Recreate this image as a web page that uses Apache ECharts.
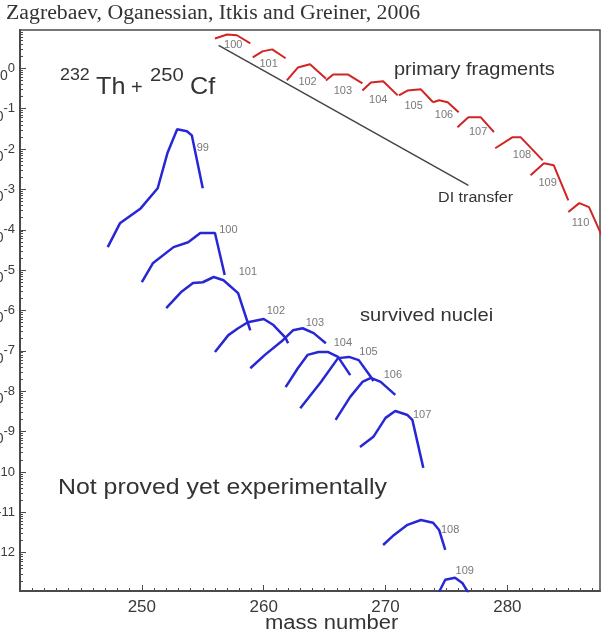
<!DOCTYPE html>
<html>
<head>
<meta charset="utf-8">
<script src="https://cdn.jsdelivr.net/npm/echarts@6/dist/echarts.min.js"></script>
<style>
  html, body { margin: 0; padding: 0; background: #fff; }
  #chart { width: 604px; height: 637px; }
</style>
</head>
<body>
<div id="chart"></div>
<script>
// Mass distributions for 232Th + 250Cf: primary DI fragments (red) and survived nuclei (blue).
// Each point is [mass number, log10 of cross section].

const massTicks = [250, 260, 270, 280];
const logTicks = [-12, -11, -10, -9, -8, -7, -6, -5, -4, -3, -2, -1, 0];

const primaryZ = [100, 101, 102, 103, 104, 105, 106, 107, 108, 109, 110];
const primaryCurves = [
  [[256.0, 0.74], [257.0, 0.84], [257.8, 0.82], [258.9, 0.62]],
  [[259.1, 0.27], [259.9, 0.42], [260.7, 0.47], [261.8, 0.25]],
  [[261.9, -0.30], [262.8, 0.02], [263.8, 0.10], [265.1, -0.25]],
  [[265.1, -0.30], [265.7, -0.15], [266.9, -0.15], [268.1, -0.37]],
  [[268.1, -0.55], [268.8, -0.35], [269.8, -0.32], [271.0, -0.67]],
  [[271.1, -0.67], [271.8, -0.55], [272.9, -0.52], [273.9, -0.84]],
  [[273.9, -0.84], [274.4, -0.79], [275.1, -0.84], [276.0, -1.09]],
  [[275.9, -1.46], [276.8, -1.21], [277.8, -1.21], [278.9, -1.58]],
  [[279.0, -1.98], [280.4, -1.71], [281.1, -1.71], [282.9, -2.28]],
  [[281.9, -2.65], [283.0, -2.35], [283.8, -2.40], [285.0, -3.27]],
  [[285.0, -3.56], [285.9, -3.34], [286.7, -3.44], [287.8, -4.18], [288.4, -4.6]]
];
const primaryLabelAt = [
  [257.5, 0.57], [260.4, 0.12], [263.6, -0.35], [266.5, -0.55], [269.4, -0.79],
  [272.3, -0.92], [274.8, -1.16], [277.6, -1.58], [281.2, -2.15], [283.3, -2.85], [286.0, -3.84]
];

const survivedZ = [99, 100, 101, 102, 103, 104, 105, 106, 107, 108, 109];
const survivedCurves = [
  [[247.2, -4.43], [248.2, -3.84], [249.9, -3.47], [251.3, -2.97], [252.1, -2.10], [252.9, -1.51], [253.7, -1.56], [254.1, -1.66], [255.0, -2.97]],
  [[250.0, -5.30], [250.9, -4.83], [252.6, -4.43], [253.8, -4.31], [254.8, -4.08], [256.0, -4.08], [256.8, -5.12]],
  [[252.0, -5.94], [253.2, -5.55], [254.2, -5.32], [255.0, -5.30], [255.9, -5.17], [256.7, -5.25], [257.9, -5.57], [258.7, -6.31], [258.9, -6.49]],
  [[256.0, -7.03], [257.1, -6.61], [257.9, -6.44], [258.7, -6.29], [260.0, -6.21], [260.8, -6.36], [261.8, -6.68], [262.0, -6.81]],
  [[258.9, -7.43], [260.1, -7.10], [261.6, -6.73], [262.4, -6.49], [263.2, -6.44], [264.1, -6.56], [265.1, -6.81]],
  [[261.8, -7.90], [262.8, -7.43], [263.6, -7.10], [264.5, -7.03], [265.3, -7.03], [266.1, -7.15], [267.1, -7.60]],
  [[263.0, -8.42], [264.7, -7.77], [266.1, -7.18], [267.0, -7.15], [267.8, -7.23], [268.8, -7.65], [269.0, -7.75]],
  [[265.9, -8.71], [267.1, -8.14], [268.1, -7.77], [268.8, -7.67], [269.6, -7.77], [270.8, -8.09]],
  [[267.9, -9.38], [269.0, -9.13], [270.0, -8.66], [270.8, -8.49], [271.8, -8.59], [272.2, -8.71], [273.1, -9.90]],
  [[269.8, -11.81], [270.7, -11.56], [271.8, -11.31], [272.9, -11.19], [273.9, -11.26], [274.4, -11.44], [274.9, -11.93]],
  [[274.4, -12.97], [274.9, -12.67], [275.7, -12.62], [276.3, -12.75], [276.8, -13.0]]
];
const survivedLabelAt = [
  [255.0, -1.98], [257.1, -4.01], [258.7, -5.05], [261.0, -6.0], [264.2, -6.31], [266.5, -6.81],
  [268.6, -7.03], [270.6, -7.60], [273.0, -8.59], [275.3, -11.44], [276.5, -12.45]
];

const diTransfer = [[256.3, 0.57], [276.8, -2.90]];

// axis extents
const X_MIN = 240, X_MAX = 287.6;
const Y_MIN = -12.95, Y_MAX = 0.95;

// minor tick positions: every mass unit, and log-decade subdivisions
const massMinor = [];
for (let m = 241; m <= 287; m++) if (m % 10 !== 0) massMinor.push(m);
const logMinor = [];
for (let d = -13; d <= 0; d++) {
  for (let k = 2; k <= 9; k++) {
    const v = d + Math.log10(k);
    if (v > Y_MIN && v < Y_MAX) logMinor.push(v);
  }
}

const BLUE = '#2727d6';
const RED = '#d12424';
const AXIS = '#4a4a4a';
const TXT = '#3a3a3a';
const SANS = '"Liberation Sans", Arial, sans-serif';

const series = [];
primaryCurves.forEach((c, i) => {
  series.push({
    name: 'primary ' + primaryZ[i], type: 'line', data: c, showSymbol: false,
    lineStyle: { color: RED, width: 2 }, silent: true, animation: false, clip: true
  });
});
survivedCurves.forEach((c, i) => {
  series.push({
    name: 'survived ' + survivedZ[i], type: 'line', data: c, showSymbol: false,
    lineStyle: { color: BLUE, width: 2.5 }, silent: true, animation: false, clip: true
  });
});
series.push({
  name: 'DI transfer', type: 'line', data: diTransfer, showSymbol: false,
  lineStyle: { color: '#444', width: 1.5 }, silent: true, animation: false
});
series.push({
  type: 'scatter', symbolSize: 0, silent: true, animation: false,
  data: primaryLabelAt.map((p, i) => ({ value: p, name: String(primaryZ[i]) })),
  label: { show: true, position: 'inside', formatter: p => p.name,
           fontSize: 11, color: '#555', fontFamily: SANS }
});
series.push({
  type: 'scatter', symbolSize: 0, silent: true, animation: false,
  data: survivedLabelAt.map((p, i) => ({ value: p, name: String(survivedZ[i]) })),
  label: { show: true, position: 'inside', formatter: p => p.name,
           fontSize: 11, color: '#555', fontFamily: SANS }
});

function txt(str, x, y, size, sx) {
  return {
    type: 'text', x: x, y: y, scaleX: sx || 1, originX: 0, originY: 0,
    style: { text: str, fontSize: size, fontFamily: SANS, fill: '#333', textVerticalAlign: 'top' }
  };
}

const chart = echarts.init(document.getElementById('chart'), null, { renderer: 'canvas' });
chart.setOption({
  backgroundColor: '#fff',
  animation: false,
  grid: { left: 20, right: 4, top: 30, bottom: 46, containLabel: false, outerBoundsMode: 'none',
          show: true, borderColor: AXIS, borderWidth: 1.5, backgroundColor: 'transparent' },
  xAxis: [
    {
      type: 'value', min: X_MIN, max: X_MAX, position: 'bottom',
      axisLine: { show: true, onZero: false, lineStyle: { color: AXIS, width: 2 } },
      axisTick: { show: true, inside: true, length: 6, customValues: massTicks, lineStyle: { color: AXIS } },
      axisLabel: { customValues: massTicks, fontSize: 17, color: TXT, fontFamily: SANS, margin: 8 },
      splitLine: { show: false }
    },
    {
      type: 'value', min: X_MIN, max: X_MAX, position: 'bottom', offset: 0,
      axisLine: { show: false, onZero: false },
      axisTick: { show: true, inside: true, length: 3, customValues: massMinor, lineStyle: { color: AXIS } },
      axisLabel: { show: false }, splitLine: { show: false }
    }
  ],
  yAxis: [
    {
      type: 'value', min: Y_MIN, max: Y_MAX, position: 'left',
      axisLine: { show: true, onZero: false, lineStyle: { color: AXIS, width: 2 } },
      axisTick: { show: true, inside: true, length: 6, customValues: logTicks, lineStyle: { color: AXIS } },
      axisLabel: {
        customValues: logTicks, margin: 5, fontFamily: SANS, color: TXT,
        formatter: v => '{b|10}{e|' + Math.round(v) + '}',
        rich: {
          b: { fontSize: 14, color: TXT, fontFamily: SANS, verticalAlign: 'bottom', lineHeight: 30 },
          e: { fontSize: 13, color: TXT, fontFamily: SANS, verticalAlign: 'middle', lineHeight: 30 }
        }
      },
      splitLine: { show: false }
    },
    {
      type: 'value', min: Y_MIN, max: Y_MAX, position: 'left', offset: 0,
      axisLine: { show: false, onZero: false },
      axisTick: { show: true, inside: true, length: 3, customValues: logMinor, lineStyle: { color: AXIS } },
      axisLabel: { show: false }, splitLine: { show: false }
    }
  ],
  graphic: [
    { type: 'text', x: 6, y: 4, scaleX: 1.09, style: { text: 'Zagrebaev, Oganessian, Itkis and Greiner, 2006',
      fontSize: 20, fontFamily: '"Liberation Serif", "Times New Roman", serif', fill: '#333', textVerticalAlign: 'top' } },
    // reaction label with mass-number superscripts
    txt('232', 60, 67, 17, 1.05),
    txt('Th', 96, 75, 24, 1.05),
    txt('+', 131, 78, 20, 1.0),
    txt('250', 150, 67, 18, 1.12),
    txt('Cf', 190, 75, 24, 1.05),
    txt('primary fragments', 394, 60, 19, 1.05),
    txt('DI transfer', 438, 191, 14, 1.15),
    txt('survived nuclei', 360, 306, 19, 1.06),
    txt('Not proved yet experimentally', 58, 477, 22, 1.13),
    txt('mass number', 265, 613, 20, 1.1)
  ],
  series: series.map(s => Object.assign({ xAxisIndex: 0, yAxisIndex: 0 }, s))
});
</script>
</body>
</html>
